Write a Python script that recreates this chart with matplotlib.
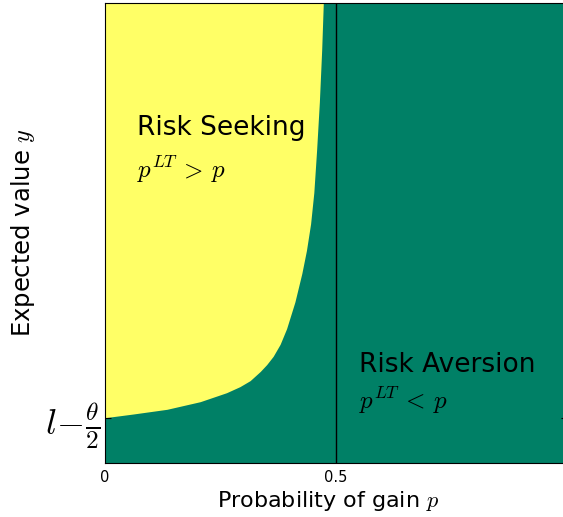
import numpy as np
import matplotlib
matplotlib.use("Agg")
import matplotlib.pyplot as plt

plt.rcParams["mathtext.fontset"] = "cm"

# boundary p^LT = p : probability of gain vs expected value
boundary_p = [0.0, 0.061, 0.134, 0.206, 0.263, 0.292, 0.314, 0.336, 0.350,
              0.364, 0.379, 0.393, 0.411, 0.426, 0.436, 0.445, 0.452, 0.458,
              0.464, 0.469, 0.4725]
boundary_y = [0.985, 1.065, 1.167, 1.333, 1.528, 1.66, 1.79, 1.99, 2.14,
              2.32, 2.58, 2.92, 3.50, 4.12, 4.62, 5.20, 5.88, 6.80,
              7.85, 8.98, 10.0]

y_tick = [0.985]
y_tick_labels = [r"$l\!-\!\frac{\theta}{2}$"]
x_ticks = [0, 0.5]
x_tick_labels = ["0", "0.5"]

cmap = plt.get_cmap("summer")
green, yellow = cmap(0.0), cmap(1.0)

fig = plt.figure(figsize=(5.63, 5.17), dpi=100)
ax = fig.add_axes([105 / 563, 54 / 517, 462 / 563, 460 / 517])

ax.set_facecolor(green)
ax.fill_betweenx(boundary_y, 0, boundary_p, color=yellow, lw=0)
ax.axvline(0.5, color="black", lw=1)

ax.set_xlim(0, 1)
ax.set_ylim(0, 10)

ax.text(0.07, 7.13, "Risk Seeking", fontsize=19)
ax.text(0.07, 6.2, r"$p^{LT}\,>\,p$", fontsize=18)
ax.text(0.549, 1.98, "Risk Aversion", fontsize=19)
ax.text(0.549, 1.17, r"$p^{LT}\,<\,p$", fontsize=18)

ax.set_xticks(x_ticks)
ax.set_xticklabels(x_tick_labels, fontsize=10.5)
ax.set_yticks(y_tick)
ax.set_yticklabels(y_tick_labels, fontsize=26)
ax.tick_params(direction="in", right=True, length=4)
ax.tick_params(axis="x", length=0, pad=5)

ax.set_xlabel(r"Probability of gain $p$", fontsize=16)
ax.xaxis.set_label_coords(0.483, -0.057)
ax.set_ylabel(r"Expected value $y$", fontsize=17.5)
ax.yaxis.set_label_coords(-0.148, 0.5)

fig.savefig("out.png", dpi=100)
